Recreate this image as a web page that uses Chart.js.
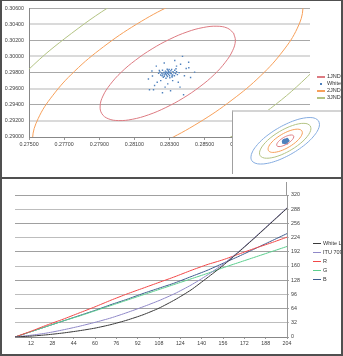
<!DOCTYPE html>
<html><head><meta charset="utf-8">
<script src="https://cdn.jsdelivr.net/npm/chart.js@4/dist/chart.umd.min.js"></script>
<style>
html,body{margin:0;padding:0;background:#fff;}
#wrap{position:relative;width:343px;height:356px;overflow:hidden;background:#fff;font-family:"Liberation Sans",Arial,sans-serif;}
canvas{position:absolute;display:block;}
.lg{position:absolute;font-size:5.5px;color:#333;white-space:nowrap;line-height:7px;height:7px;}
.sw{position:absolute;height:1px;}
.bd{position:absolute;background:#505050;}
</style></head><body>
<div id="wrap">
<canvas id="cTop" width="343" height="178" style="left:0;top:0"></canvas>
<div style="position:absolute;left:232px;top:110px;width:111px;height:64px;background:#fff;border-left:1px solid #a0a0a0;border-top:2px solid #d4d4d4;box-sizing:border-box;"></div>
<canvas id="cInset" width="110" height="62" style="left:233px;top:112px"></canvas>
<canvas id="cBot" width="343" height="176" style="left:0;top:180px"></canvas>
<div style="position:absolute;left:286px;top:182px;width:1px;height:13px;background:#999"></div>
<div id="legTop"></div>
<div id="legBot"></div>
<div class="bd" style="left:0;top:0;width:343px;height:1px"></div>
<div class="bd" style="left:0;top:0;width:2px;height:356px"></div>
<div class="bd" style="left:341px;top:0;width:2px;height:356px"></div>
<div class="bd" style="left:0;top:177px;width:343px;height:2px"></div>
<div class="bd" style="left:0;top:354px;width:343px;height:2px"></div>
</div>
<script>
// ---------- Top chart data ----------
const topXTicks = [0.275, 0.277, 0.279, 0.281, 0.283, 0.285, 0.287, 0.289, 0.291];
const topYTicks = [0.290, 0.292, 0.294, 0.296, 0.298, 0.300, 0.302, 0.304, 0.306];
const jndLabels = ['1JND', '2JND', '3JND'];
const jndLevels = [1, 2, 3];
const insetLevels = [1, 2, 3, 4];
const jndCenter = [0.2829, 0.2979];
// points (closed)
const jnd1X = [0.28665,0.28629,0.28570,0.28492,0.28400,0.28301,0.28201,0.28107,0.28025,0.27962,0.27921,0.27905,0.27915,0.27951,0.28010,0.28088,0.28180,0.28279,0.28379,0.28473,0.28555,0.28618,0.28659,0.28675,0.28665];
const jnd1Y = [0.30291,0.30353,0.30376,0.30360,0.30305,0.30214,0.30095,0.29955,0.29804,0.29651,0.29509,0.29385,0.29289,0.29227,0.29204,0.29220,0.29275,0.29366,0.29485,0.29625,0.29776,0.29929,0.30071,0.30195,0.30291];
// White measurement points
const whiteX = [0.28290,0.28302,0.28281,0.28275,0.28310,0.28296,0.28268,0.28318,0.28285,0.28300,0.28262,0.28325,0.28292,0.28277,0.28308,0.28255,0.28335,0.28288,0.28270,0.28315,0.28245,0.28340,0.28298,0.28260,0.28328,0.28283,0.28305,0.28272,0.28295,0.28320,0.28250,0.28345,0.28287,0.28312,0.28238,0.28355,0.28265,0.28302,0.28330,0.28242,0.28278,0.28293,0.28314,0.28258,0.28337,0.28280,
 0.28186,0.28209,0.28374,0.28409,0.28443,0.28380,0.28306,0.28260,0.28203,0.28363,0.28230,0.28350,0.28395,0.28180,0.28420,0.28225,0.28330,0.28270,0.28360,0.28215,0.28290,0.28385,0.28200,0.28410,0.28250,0.28318,0.28340,0.28275];
const whiteY = [0.29790,0.29801,0.29778,0.29795,0.29785,0.29812,0.29802,0.29770,0.29765,0.29760,0.29782,0.29798,0.29825,0.29818,0.29822,0.29795,0.29788,0.29750,0.29755,0.29745,0.29808,0.29810,0.29838,0.29830,0.29760,0.29805,0.29795,0.29772,0.29778,0.29812,0.29770,0.29775,0.29842,0.29840,0.29790,0.29800,0.29742,0.29735,0.29830,0.29825,0.29788,0.29803,0.29758,0.29760,0.29848,0.29730,
 0.29586,0.29586,0.30001,0.29928,0.29806,0.29525,0.29574,0.29549,0.29757,0.29904,0.29680,0.29680,0.29850,0.29720,0.29740,0.29880,0.29950,0.29920,0.29620,0.29640,0.29660,0.29760,0.29820,0.29860,0.29700,0.29700,0.29880,0.29620];

// ---------- Bottom chart data ----------
const botX = [0,12,24,36,48,60,72,84,96,108,120,132,144,156,168,180,192,204];
const botXTicks = [12,28,44,60,76,92,108,124,140,156,172,188,204];
const botYTicks = [0,32,64,96,128,160,192,224,256,288,320];
const seriesNames = ['White Lu', 'ITU 709', 'R', 'G', 'B'];
const whiteLu = [0,2,5,9,14,20,28,38,50,65,84,106,133,161,192,224,257,290];
const itu709  = [0,4,9,16,24,33,43,55,68,82,98,117,139,164,193,225,258,291];
const rVals   = [0,13,27,40,54,68,83,97,110,123,136,150,163,174,187,200,212,225];
const gVals   = [0,12,24,36,47,59,71,83,95,107,119,131,143,156,168,180,192,204];
const bVals   = [0,12,24,36,48,60,73,85,98,110,122,136,150,166,182,199,216,233];

const jndColors = ['#dd7b82', '#f7a05a', '#b3c383', '#85ace0'];
const whiteColor = '#4f81bd';
const seriesColors = ['#3a3a3a', '#8f88c8', '#f24848', '#5ccf8e', '#3d5b8e'];

Chart.defaults.font.family = '"Liberation Sans", Arial, sans-serif';
Chart.defaults.font.size = 5.3;
Chart.defaults.color = '#404040';
Chart.defaults.animation = false;

function ring(n) {
  return jnd1X.map((x, i) => ({ x: jndCenter[0] + n * (x - jndCenter[0]), y: jndCenter[1] + n * (jnd1Y[i] - jndCenter[1]) }));
}
const whitePts = whiteX.map((x, i) => ({ x, y: whiteY[i] }));
const ringDs = (n, i) => ({ label: (n) + 'JND', data: ring(n), showLine: true, borderColor: jndColors[i], borderWidth: 1, pointRadius: 0, tension: 0.4, fill: false });

new Chart(document.getElementById('cTop'), {
  type: 'scatter',
  data: { datasets: [
    ringDs(1, 0),
    { label: 'White', data: whitePts, backgroundColor: whiteColor, borderColor: whiteColor, pointRadius: 1, borderWidth: 0, pointStyle: 'rect' },
    ringDs(2, 1),
    ringDs(3, 2)
  ]},
  options: {
    responsive: false, devicePixelRatio: 1,
    layout: { padding: { top: 6, right: 33, left: 0, bottom: 0 } },
    plugins: { legend: { display: false }, tooltip: { enabled: false } },
    scales: {
      x: { type: 'linear', min: 0.275, max: 0.291,
        afterBuildTicks: s => { s.ticks = topXTicks.map(v => ({ value: v })); },
        afterFit: s => { s.height = 41; },
        ticks: { callback: v => v.toFixed(5), maxRotation: 0, autoSkip: false, padding: 1 },
        grid: { drawOnChartArea: false, drawTicks: true, tickLength: 3, color: '#999' },
        border: { display: true, color: '#888', width: 1 } },
      y: { type: 'linear', min: 0.290, max: 0.306,
        afterBuildTicks: s => { s.ticks = topYTicks.map(v => ({ value: v })); },
        afterFit: s => { s.width = 29; },
        ticks: { callback: v => v.toFixed(5), autoSkip: false, padding: 5 },
        grid: { drawTicks: false, color: c => (c.index % 2 === 0 ? '#a8a8a8' : '#dadada'), lineWidth: c => (c.index % 2 === 0 ? 1 : 2) },
        border: { display: true, color: '#888', width: 1 } }
    }
  }
});

new Chart(document.getElementById('cInset'), {
  type: 'scatter',
  data: { datasets: insetLevels.map((n, i) => ({ label: n + 'JND', data: ring(n), showLine: true, borderColor: jndColors[i], borderWidth: 1, pointRadius: 0, tension: 0.4 }))
    .concat([{ label: 'White', data: whitePts, backgroundColor: whiteColor, borderColor: whiteColor, pointRadius: 1, borderWidth: 0 }]) },
  options: {
    responsive: false, devicePixelRatio: 1,
    layout: { padding: 0 },
    plugins: { legend: { display: false }, tooltip: { enabled: false } },
    scales: {
      x: { type: 'linear', min: 0.26123, max: 0.30706, display: false },
      y: { type: 'linear', min: 0.26844, max: 0.3229, display: false }
    }
  }
});

const botSeries = [whiteLu, itu709, rVals, gVals, bVals];
new Chart(document.getElementById('cBot'), {
  type: 'line',
  data: { datasets: botSeries.map((arr, i) => ({
    label: seriesNames[i], data: arr.map((y, j) => ({ x: botX[j], y })),
    borderColor: seriesColors[i], borderWidth: 1, pointRadius: 0, tension: 0.2, fill: false })) },
  options: {
    responsive: false, devicePixelRatio: 1,
    layout: { padding: { top: 15, left: 15, right: 0, bottom: 0 } },
    plugins: { legend: { display: false }, tooltip: { enabled: false } },
    scales: {
      x: { type: 'linear', min: 0, max: 204,
        afterBuildTicks: s => { s.ticks = botXTicks.map(v => ({ value: v })); },
        afterFit: s => { s.height = 19; },
        ticks: { maxRotation: 0, autoSkip: false, padding: 1 },
        grid: { drawOnChartArea: false, drawTicks: true, tickLength: 2, color: '#999' },
        border: { display: true, color: '#888' } },
      y: { type: 'linear', position: 'right', min: 0, max: 320,
        afterBuildTicks: s => { s.ticks = botYTicks.map(v => ({ value: v })); },
        afterFit: s => { s.width = 56; },
        ticks: { autoSkip: false, padding: 2 },
        grid: { drawTicks: true, tickLength: 2, color: c => (c.index % 2 === 0 ? '#a0a0a0' : '#bdbdbd') },
        border: { display: true, color: '#999' } }
    }
  }
});

// legends
const lt = document.getElementById('legTop');
const topLegend = [['1JND', jndColors[0], 'line'], ['White', whiteColor, 'dot'], ['2JND', jndColors[1], 'line'], ['3JND', jndColors[2], 'line']];
topLegend.forEach((e, i) => {
  const y = 76 + i * 7;
  if (e[2] === 'line') lt.insertAdjacentHTML('beforeend', `<div class="sw" style="left:317px;top:${y}px;width:8px;height:2px;background:${e[1]}"></div>`);
  else lt.insertAdjacentHTML('beforeend', `<div class="sw" style="left:320px;top:${y - 0.5}px;width:2px;height:2px;background:${e[1]}"></div>`);
  lt.insertAdjacentHTML('beforeend', `<div class="lg" style="left:327px;top:${y - 3.5}px">${e[0]}</div>`);
});
const lb = document.getElementById('legBot');
seriesNames.forEach((n, i) => {
  const y = 243 + i * 9;
  lb.insertAdjacentHTML('beforeend', `<div class="sw" style="left:313px;top:${y}px;width:8px;background:${seriesColors[i]}"></div>`);
  lb.insertAdjacentHTML('beforeend', `<div class="lg" style="left:323px;top:${y - 3.5}px">${n}</div>`);
});
</script>
</body></html>
